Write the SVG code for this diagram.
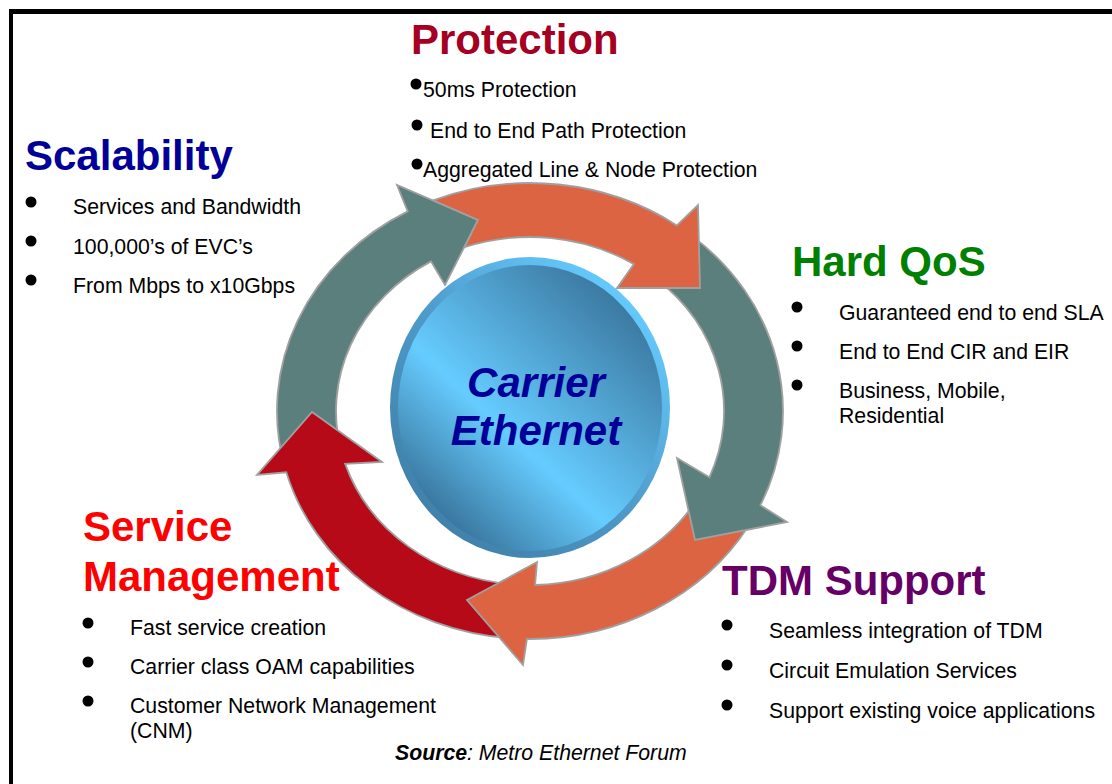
<svg xmlns="http://www.w3.org/2000/svg" width="1112" height="784" viewBox="0 0 1112 784">
<style>
text{font-family:"Liberation Sans",Arial,sans-serif}
.title{font-size:42px;font-weight:bold}
.body{font-size:21.25px;fill:#000}
.arrow{stroke:#a0a0a0;stroke-width:1.8;stroke-linejoin:miter}
.gray{fill:#5b7f7c}
.orange{fill:#dd6443}
.red{fill:#b70a18}
.dot{fill:#000}
</style>
<defs>
<linearGradient id="disc" gradientUnits="userSpaceOnUse" x1="436.7" y1="509" x2="623.3" y2="307">
<stop offset="0" stop-color="#3a78a0"/>
<stop offset="0.38" stop-color="#66ccff"/>
<stop offset="1" stop-color="#3c7aa2"/>
</linearGradient>
<linearGradient id="rim" x1="0.85" y1="0.1" x2="0.15" y2="0.9">
<stop offset="0" stop-color="#66ccff"/>
<stop offset="0.5" stop-color="#4f9bcb"/>
<stop offset="1" stop-color="#3f80a8"/>
</linearGradient>
</defs>
<rect width="1112" height="784" fill="#fff"/>
<g id="frame">
<rect x="9" y="9" width="1103" height="5" fill="#000"/>
<rect x="9" y="9" width="4" height="775" fill="#000"/>
</g>
<g id="carrier-ethernet">
<ellipse cx="530" cy="407.5" rx="140" ry="150.5" fill="url(#rim)"/>
<ellipse cx="530" cy="408" rx="132" ry="143" fill="url(#disc)"/>
<text x="536" y="397" text-anchor="middle" font-size="42" font-weight="bold" font-style="italic" fill="#000099">Carrier</text>
<text x="536" y="445" text-anchor="middle" font-size="42" font-weight="bold" font-style="italic" fill="#000099">Ethernet</text>
</g>
<g id="connectors">
<path class="arrow gray" d="M 284.5 466.2 A 253 228 0 0 1 407.7 211.4 L 397 185 L 478 220 L 445 285 L 431 261.4 A 194 174 0 0 0 341.8 453.1 Z"/>
<path class="arrow red" d="M 507.9 638.1 A 253 228 0 0 1 286.3 472.3 L 257 475 L 312 412 L 382 462 L 345.2 463.9 A 194 174 0 0 0 513.1 584.3 Z"/>
<path class="arrow orange" d="M 749.1 525 A 253 228 0 0 1 526.9 639 L 523 665 L 467 600 L 537 562 L 535.1 585 A 194 174 0 0 0 698 498 Z"/>
<path class="arrow gray" d="M 692.6 236.4 A 253 228 0 0 1 760.4 505.2 L 787 522 L 695 540 L 677 458 L 709.4 477.3 A 194 174 0 0 0 654.7 277.7 Z"/>
<path class="arrow orange" d="M 433.2 200.4 L 478 220 L 464.6 247.2 A 194 174 0 0 1 633.9 264.1 L 617 288 L 700 288 L 698 205 L 676.9 225.4 A 253 228 0 0 0 433.2 200.4 Z"/>
</g>
<g id="protection">
<text class="title" x="411" y="54" fill="#a50021">Protection</text>
<circle class="dot" cx="416" cy="84" r="5.5"/>
<text class="body" x="423" y="97">50ms Protection</text>
<circle class="dot" cx="417" cy="125" r="5.5"/>
<text class="body" x="430" y="138">End to End Path Protection</text>
<circle class="dot" cx="417" cy="164" r="5.5"/>
<text class="body" x="423" y="177">Aggregated Line &amp; Node Protection</text>
</g>
<g id="scalability">
<text class="title" x="25" y="170" fill="#000099">Scalability</text>
<circle class="dot" cx="31" cy="202" r="5.5"/>
<text class="body" x="73" y="214">Services and Bandwidth</text>
<circle class="dot" cx="31" cy="241" r="5.5"/>
<text class="body" x="73" y="254">100,000’s of EVC’s</text>
<circle class="dot" cx="31" cy="280" r="5.5"/>
<text class="body" x="73" y="293">From Mbps to x10Gbps</text>
</g>
<g id="hard-qos">
<text class="title" x="792" y="276" fill="#008000">Hard QoS</text>
<circle class="dot" cx="797" cy="307" r="5.5"/>
<text class="body" x="839" y="320">Guaranteed end to end SLA</text>
<circle class="dot" cx="797" cy="346" r="5.5"/>
<text class="body" x="839" y="359">End to End CIR and EIR</text>
<circle class="dot" cx="797" cy="385" r="5.5"/>
<text class="body" x="839" y="398">Business, Mobile,</text>
<text class="body" x="839" y="423">Residential</text>
</g>
<g id="tdm-support">
<text class="title" x="722" y="595" fill="#660066">TDM Support</text>
<circle class="dot" cx="727" cy="625" r="5.5"/>
<text class="body" x="769" y="638">Seamless integration of TDM</text>
<circle class="dot" cx="727" cy="665" r="5.5"/>
<text class="body" x="769" y="678">Circuit Emulation Services</text>
<circle class="dot" cx="727" cy="705" r="5.5"/>
<text class="body" x="769" y="718">Support existing voice applications</text>
</g>
<g id="service-management">
<text class="title" x="83" y="541" fill="#ff0000">Service</text>
<text class="title" x="83" y="591" fill="#ff0000">Management</text>
<circle class="dot" cx="88" cy="623" r="5.5"/>
<text class="body" x="130" y="635">Fast service creation</text>
<circle class="dot" cx="88" cy="662" r="5.5"/>
<text class="body" x="130" y="674">Carrier class OAM capabilities</text>
<circle class="dot" cx="88" cy="701" r="5.5"/>
<text class="body" x="130" y="713">Customer Network Management</text>
<text class="body" x="130" y="738">(CNM)</text>
</g>
<g id="source">
<text class="body" x="395" y="760" font-style="italic"><tspan font-weight="bold">Source</tspan>: Metro Ethernet Forum</text>
</g>
</svg>
